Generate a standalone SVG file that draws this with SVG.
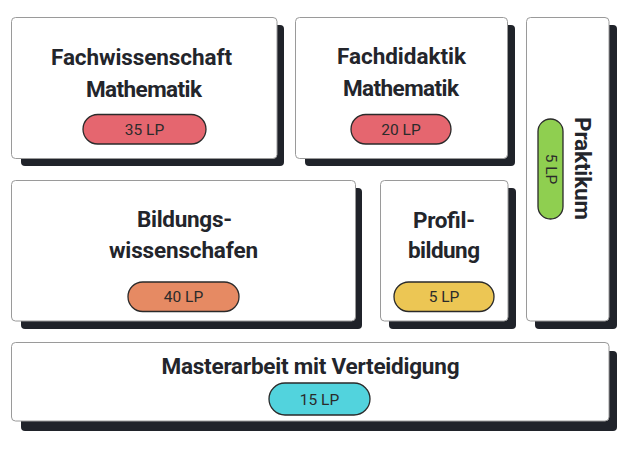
<svg xmlns="http://www.w3.org/2000/svg" width="624" height="449" viewBox="0 0 624 449">
<style>
.bg{fill:#ffffff}
.shadow{fill:#20232a}
.box{fill:#ffffff;stroke:#9a9a9a;stroke-width:1}
.title{font-family:Roboto,"Liberation Sans",sans-serif;font-weight:700;font-size:22.5px;fill:#23252b;text-anchor:middle}
.pill{stroke:#2a2a2a;stroke-width:1.3}
.lp{font-family:Roboto,"Liberation Sans",sans-serif;font-weight:400;font-size:15.5px;fill:#2b2b2b;text-anchor:middle}
.red{fill:#e5666f}
.orange{fill:#e68a63}
.yellow{fill:#ecc654}
.green{fill:#8fcf50}
.cyan{fill:#52d3dd}
</style>
<rect class="bg" x="0" y="0" width="624" height="449"/>
<g id="fachwissenschaft">
<rect class="shadow" x="21" y="25" width="263" height="141" rx="4"/>
<rect class="box" x="11.5" y="17.5" width="265.5" height="141" rx="4"/>
<text class="title" x="141.5" y="65" textLength="181">Fachwissenschaft</text>
<text class="title" x="144" y="97" textLength="116">Mathematik</text>
<rect class="pill red" x="83" y="114.5" width="123" height="29.5" rx="14.75"/>
<text class="lp" x="144.5" y="134.7">35 LP</text>
</g>
<g id="fachdidaktik">
<rect class="shadow" x="305" y="25" width="210" height="141" rx="4"/>
<rect class="box" x="295.5" y="17.5" width="212" height="141" rx="4"/>
<text class="title" x="401.5" y="64" textLength="129">Fachdidaktik</text>
<text class="title" x="401" y="96" textLength="116">Mathematik</text>
<rect class="pill red" x="351" y="114.5" width="100" height="29.5" rx="14.75"/>
<text class="lp" x="401" y="134.7">20 LP</text>
</g>
<g id="praktikum">
<rect class="shadow" x="535" y="25" width="82" height="304" rx="4"/>
<rect class="box" x="526.5" y="17.5" width="82.5" height="303.5" rx="4"/>
<text class="title" transform="translate(575,168.5) rotate(90)" x="0" y="0" textLength="103">Praktikum</text>
<rect class="pill green" x="538" y="119" width="25" height="100" rx="12.5"/>
<text class="lp" transform="translate(546,169) rotate(90)" x="0" y="0">5 LP</text>
</g>
<g id="bildungswissenschaften">
<rect class="shadow" x="21" y="188" width="341" height="141" rx="4"/>
<rect class="box" x="11.5" y="180.5" width="344" height="140.5" rx="4"/>
<text class="title" x="184.5" y="227" textLength="95">Bildungs-</text>
<text class="title" x="183.5" y="258" textLength="149">wissenschafen</text>
<rect class="pill orange" x="128" y="282" width="111" height="29.5" rx="14.75"/>
<text class="lp" x="183.5" y="302.2">40 LP</text>
</g>
<g id="profilbildung">
<rect class="shadow" x="389" y="188" width="127" height="141" rx="4"/>
<rect class="box" x="380.5" y="180.5" width="127.5" height="140.5" rx="4"/>
<text class="title" x="444" y="227.5" textLength="62">Profil-</text>
<text class="title" x="444" y="258" textLength="72">bildung</text>
<rect class="pill yellow" x="394" y="282" width="100" height="29.5" rx="14.75"/>
<text class="lp" x="444" y="302.2">5 LP</text>
</g>
<g id="masterarbeit">
<rect class="shadow" x="21" y="351" width="596" height="80" rx="4"/>
<rect class="box" x="11.5" y="342.5" width="597.5" height="78.5" rx="4"/>
<text class="title" x="310.5" y="374" textLength="298">Masterarbeit mit Verteidigung</text>
<rect class="pill cyan" x="269" y="383" width="101" height="32" rx="16"/>
<text class="lp" x="319.5" y="404.7">15 LP</text>
</g>
<g id="connectors"></g>
</svg>
